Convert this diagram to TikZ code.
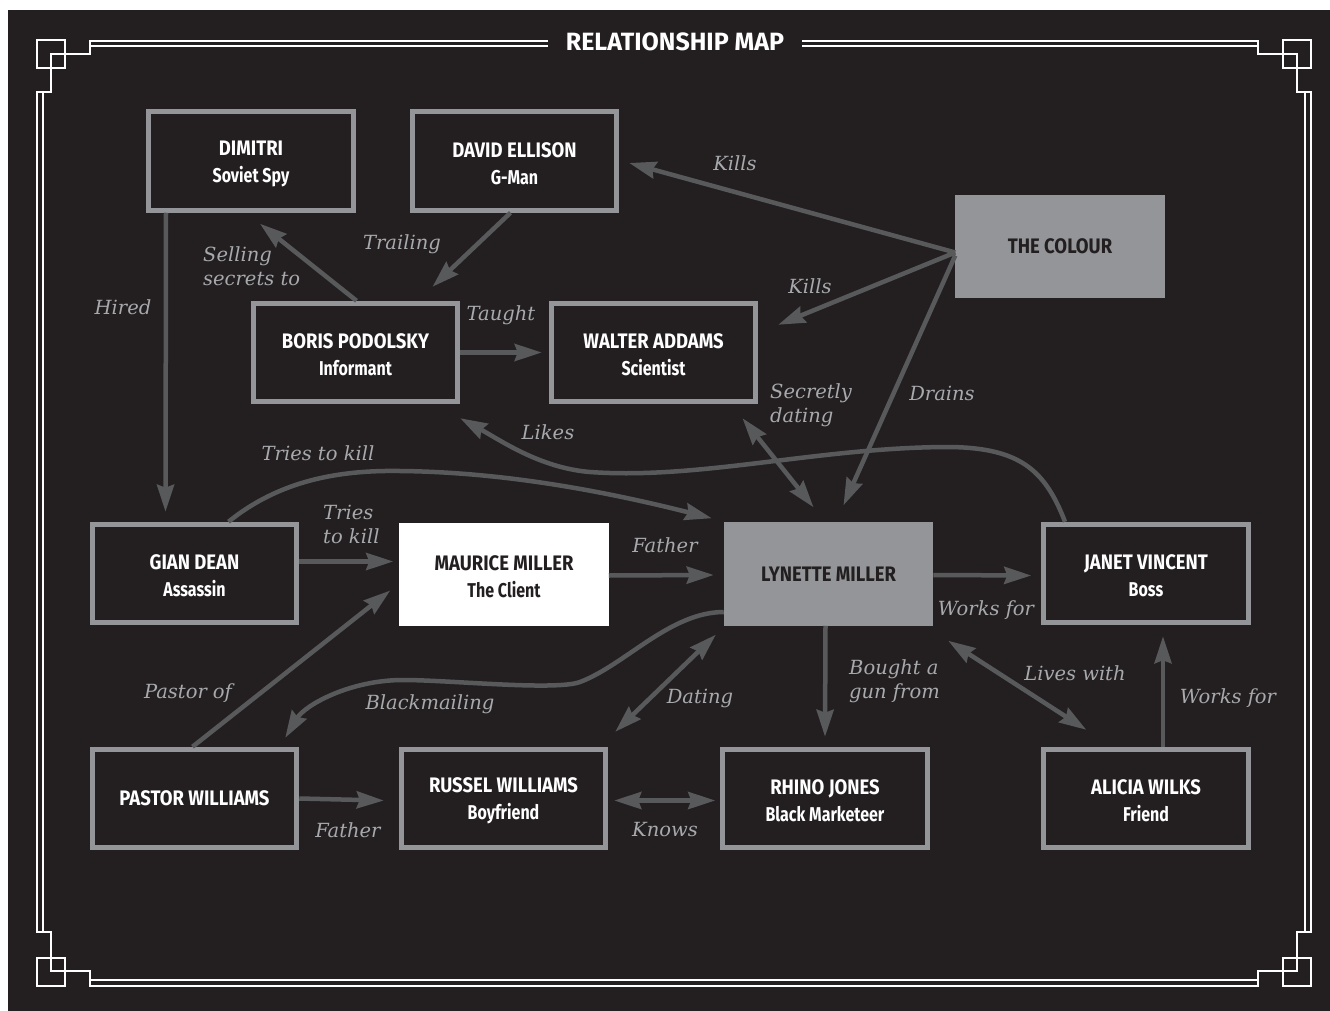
\documentclass[tikz,border=0pt]{standalone}
\usepackage{fontspec}
\usetikzlibrary{arrows.meta,calc}
\newfontfamily\namefont{Fira Sans}[FakeStretch=0.88]
\newfontfamily\subfont{Fira Sans}[FakeStretch=0.8]
\newfontfamily\labfont{DejaVu Serif}
\newfontfamily\ttlfont{Fira Sans}
\definecolor{bgc}{HTML}{231F20}
\definecolor{boxc}{HTML}{939598}
\definecolor{arrc}{HTML}{58595B}
\definecolor{labc}{HTML}{A7A9AC}
\newcommand{\nm}[2]{{\namefont\bfseries\fontsize{21}{27}\selectfont\rule{0pt}{20pt}#1}\\{\subfont\bfseries\fontsize{20}{27}\selectfont #2}}
\newcommand{\nmone}[1]{{\namefont\bfseries\fontsize{21}{27}\selectfont #1}}
\tikzset{
  frm/.style={draw=white, line width=2pt},
  box/.style={draw=boxc, line width=5pt, fill=bgc, minimum width=204.5pt, minimum height=98.5pt,
    text=white, align=center, inner sep=0pt, font=\fontsize{20}{27}\selectfont},
  filledbox/.style={box, fill=boxc, draw=boxc, text=bgc},
  whitebox/.style={box, fill=white, draw=white, text=bgc},
  arr/.style={draw=arrc, line width=4.5pt, -{Stealth[length=27pt,width=17pt,inset=3pt]}},
  darr/.style={draw=arrc, line width=4.5pt, {Stealth[length=27pt,width=17pt,inset=3pt]}-{Stealth[length=27pt,width=17pt,inset=3pt]}},
  lab/.style={text=labc, font=\labfont\itshape\fontsize{19.5}{24}\selectfont, inner sep=0pt},
  ttl/.style={text=white, font=\ttlfont\bfseries\fontsize{25}{25}\selectfont, inner sep=0pt}
}
\begin{document}
\begin{tikzpicture}[x=1pt,y=-1pt]
\useasboundingbox (0,0) rectangle (1330,1011);
\fill[white] (0,0) rectangle (1330,1011);
\fill[bgc] (8,10) rectangle (1330,1011);
% frame
\draw[frm] (548,41) -- (90,41) -- (90,54) -- (51,54) -- (51,92) -- (37,92) -- (37,932) -- (51,932) -- (51,971) -- (90,971) -- (90,986) -- (1258,986) -- (1258,971) -- (1297,971) -- (1297,932) -- (1311,932) -- (1311,92) -- (1297,92) -- (1297,54) -- (1258,54) -- (1258,41) -- (802,41);
\draw[frm] (37,40) rectangle (65,68);
\draw[frm] (1283,40) rectangle (1311,68);
\draw[frm] (37,958) rectangle (65,986);
\draw[frm] (1283,958) rectangle (1311,986);
\draw[frm] (548,46.5) -- (90,46.5);
\draw[frm] (802,46.5) -- (1258,46.5);
\draw[frm] (43,92) -- (43,932);
\draw[frm] (1305,92) -- (1305,932);
\draw[frm] (90,979.5) -- (1258,979.5);
\node[ttl] (title) at (675,42) {RELATIONSHIP MAP};
% nodes
\node[box] (dimitri) at (251,161) {\nm{DIMITRI}{Soviet Spy}};
\node[box] (david) at (514.5,161) {\nm{DAVID ELLISON}{G-Man}};
\node[box] (boris) at (355.5,352.5) {\nm{BORIS PODOLSKY}{Informant}};
\node[box] (walter) at (653.5,352.5) {\nm{WALTER ADDAMS}{Scientist}};
\node[filledbox] (colour) at (1060,246.5) {\nmone{THE COLOUR}};
\node[box] (gian) at (194.5,573.5) {\nm{GIAN DEAN}{Assassin}};
\node[whitebox] (maurice) at (504,574.5) {\nm{MAURICE MILLER}{The Client}};
\node[filledbox] (lynette) at (828.5,574) {\nmone{LYNETTE MILLER}};
\node[box] (janet) at (1146,573.5) {\nm{JANET VINCENT}{Boss}};
\node[box] (pastor) at (194.5,798.5) {\nmone{PASTOR WILLIAMS}};
\node[box] (russel) at (503.5,798.5) {\nm{RUSSEL WILLIAMS}{Boyfriend}};
\node[box] (rhino) at (825,798.5) {\nm{RHINO JONES}{Black Marketeer}};
\node[box] (alicia) at (1146,798.5) {\nm{ALICIA WILKS}{Friend}};
% connectors
\draw[arr] ($(colour.west)+(0,6)$) -- ($(david.east)+(10,2)$);
\draw[arr] ($(colour.west)+(0,6)$) -- ($(walter.north east)+(20,24)$);
\draw[arr] ($(colour.west)+(0,9)$) -- ($(lynette.north)+(15,-17)$);
\draw[arr] ($(dimitri.south)+(-85,0)$) -- ($(gian.north)+(-29,-10)$);
\draw[arr] ($(boris.north)+(1,0)$) -- ($(dimitri.south)+(9,11)$);
\draw[arr] ($(david.south)+(-4,0)$) -- ($(boris.north)+(77,-14)$);
\draw[arr] (boris.east) -- ($(walter.west)+(-7,0)$);
\draw[darr] ($(walter.south)+(89,14)$) -- ($(lynette.north)+(-15,-15)$);
\draw[arr] ($(janet.north)+(-81,0)$) .. controls (1045,470) and (1020,448) .. (950,447) .. controls (820,447) and (700,480) .. (590,472) .. controls (540,468) and (500,440) .. ($(boris.south east)+(0,14)$);
\draw[arr] ($(gian.north)+(34,0)$) .. controls (280,480) and (340,470) .. (400,471) .. controls (500,472) and (600,490) .. ($(lynette.north west)+(-12,-4)$);
\draw[arr] ($(gian.east)+(0,-12)$) -- ($(maurice.west)+(-6,-13)$);
\draw[arr] ($(maurice.east)+(0,1)$) -- ($(lynette.west)+(-10,1)$);
\draw[arr] ($(lynette.east)+(0,1)$) -- ($(janet.west)+(-10,2)$);
\draw[arr] ($(lynette.west)+(0,38)$) .. controls (670,612) and (625,665) .. (580,682) .. controls (555,691) and (450,680) .. (403,680) .. controls (350,680) and (305,705) .. ($(pastor.north east)+(-14,-9)$);
\draw[arr] ($(pastor.north)+(-2,0)$) -- ($(maurice.west)+(-9,16)$);
\draw[darr] ($(lynette.south west)+(-8,9)$) -- ($(russel.north east)+(7,-15)$);
\draw[arr] ($(lynette.south)+(-3,0)$) -- ($(rhino.north)+(0,-10)$);
\draw[darr] ($(lynette.south east)+(15,15)$) -- ($(alicia.north west)+(45,-17)$);
\draw[arr] ($(alicia.north)+(17,0)$) -- ($(janet.south)+(17,11)$);
\draw[arr] (pastor.east) -- ($(russel.west)+(-15,2)$);
\draw[darr] ($(russel.east)+(6,2)$) -- ($(rhino.west)+(-5,2)$);
% labels
\node[lab] (l1) at (735,163) {Kills};
\node[lab] (l2) at (810,286) {Kills};
\node[lab] (l3) at (942,393) {Drains};
\node[lab] (l4) at (123,307) {Hired};
\node[lab, align=left, anchor=west] (l5) at (203,266) {Selling\\secrets to};
\node[lab] (l6) at (402,244) {Trailing};
\node[lab] (l7) at (501,315) {Taught};
\node[lab, align=left, anchor=west] (l8) at (770,405) {Secretly\\dating};
\node[lab] (l9) at (548,432) {Likes};
\node[lab] (l10) at (318,453) {Tries to kill};
\node[lab, align=left, anchor=west] (l11) at (323,524) {Tries\\to kill};
\node[lab] (l12) at (665,545) {Father};
\node[lab] (l13) at (986,610) {Works for};
\node[lab] (l14) at (430,704) {Blackmailing};
\node[lab] (l15) at (188,693) {Pastor of};
\node[lab] (l16) at (700,698) {Dating};
\node[lab, align=left, anchor=west] (l17) at (849,681) {Bought a\\gun from};
\node[lab] (l18) at (1075,673) {Lives with};
\node[lab] (l19) at (1228,698) {Works for};
\node[lab] (l20) at (348,830) {Father};
\node[lab] (l21) at (665,830) {Knows};
\end{tikzpicture}
\end{document}
